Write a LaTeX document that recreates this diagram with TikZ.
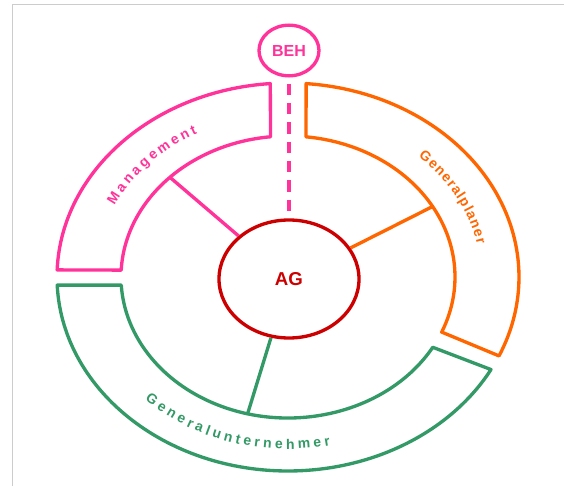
\documentclass[tikz,border=0pt]{standalone}
\usepackage{fontspec}
\setmainfont{Liberation Sans}
\usetikzlibrary{positioning, shapes.geometric, decorations.text}

\definecolor{mgmtpink}{HTML}{FF3399}
\definecolor{planorange}{HTML}{FF6600}
\definecolor{gugreen}{HTML}{339966}
\definecolor{agred}{HTML}{CC0000}
\definecolor{framegray}{HTML}{CCCCCC}

\newcommand{\ringfont}{\fontsize{10.5}{12}\selectfont\bfseries}

\begin{document}
\begin{tikzpicture}[
  x=0.75pt, y=0.75pt,
  party/.style={ellipse, draw, line width=2.5pt, inner sep=0pt},
  segment/.style={line width=2.5pt, line join=round},
  spoke/.style={line width=2.5pt},
  ]

  \useasboundingbox (-288,-209) rectangle (276,277);
  \draw[framegray, line width=1.2pt] (-275.5,-209) -- (-275.5,272.5) -- (276,272.5);

  % the parties
  \node[party, agred, minimum width=105pt, minimum height=88.5pt, font=\fontsize{14}{16}\selectfont\bfseries] (AG) at (1,-2) {AG};
  \node[party, mgmtpink, minimum width=45pt, minimum height=38pt, font=\fontsize{12}{14}\selectfont\bfseries] (BEH) at (1,226.5) {BEH};

  % Management
  \draw[segment, mgmtpink] (94.4:231 and 194) arc[start angle=94.4, end angle=177.9, x radius=231, y radius=194]
    -- (177.2:167 and 141) arc[start angle=177.2, end angle=96, x radius=167, y radius=141] -- cycle;
  \path[decorate, decoration={text along path, text align=fit to path, text color=mgmtpink, text={|\ringfont|Management}}]
    (154:193 and 163) arc[start angle=154, end angle=118, x radius=193, y radius=163];

  % Generalplaner
  \draw[segment, planorange] (85.5:231 and 194) arc[start angle=85.5, end angle=-24, x radius=231, y radius=194]
    -- (-23:167 and 141) arc[start angle=-23, end angle=83.8, x radius=167, y radius=141] -- cycle;
  \path[decorate, decoration={text along path, text align=fit to path, text color=planorange, text={|\ringfont|Generalplaner}}]
    (47.5:193 and 163) arc[start angle=47.5, end angle=11.5, x radius=193, y radius=163];

  % Generalunternehmer
  \draw[segment, gugreen] (182.4:231 and 194) arc[start angle=182.4, end angle=331.5, x radius=231, y radius=194]
    -- (330.1:167 and 141) arc[start angle=330.1, end angle=183.3, x radius=167, y radius=141] -- cycle;
  \path[decorate, decoration={text along path, text align=fit to path, text color=gugreen, text={|\ringfont|Generalunternehmer}}]
    (225.5:204 and 172) arc[start angle=225.5, end angle=282, x radius=204, y radius=172];

  % spokes to the inner ring
  \coordinate (mgmtin) at (135:167 and 141);
  \coordinate (planin) at (30:167 and 141);
  \coordinate (guin) at (256:167 and 141);

  \draw[spoke, mgmtpink] (AG) -- (mgmtin);
  \draw[spoke, planorange] (AG) -- (planin);
  \draw[spoke, gugreen] (AG) -- (guin);
  \draw[spoke, mgmtpink, dash pattern=on 8.5pt off 6pt, shorten <=4.5pt] (BEH) -- (AG);

\end{tikzpicture}
\end{document}
